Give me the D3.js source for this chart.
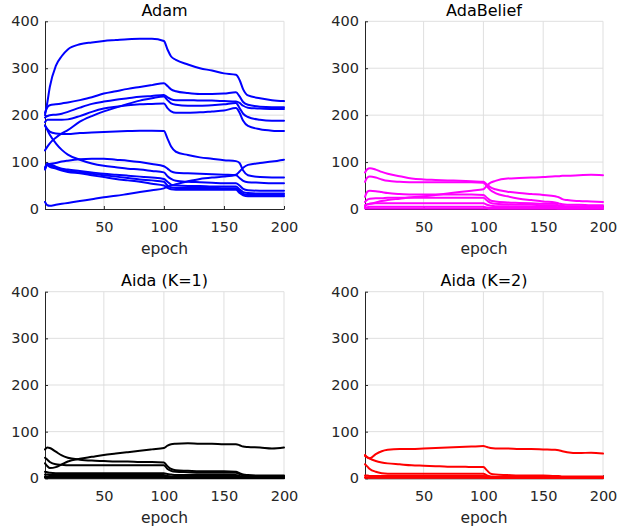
<!DOCTYPE html>
<html><head><meta charset="utf-8">
<script src="https://cdn.jsdelivr.net/npm/d3@7"></script>
<style>body{margin:0;background:#fff} svg{display:block}</style>
</head><body><svg id="c" width="632" height="529"></svg>
<script>
// ---------- data ----------
const epochs = [1,3,5,10,15,20,30,40,50,60,70,80,90,100,103,106,110,120,130,140,150,160,163,166,170,180,190,200];
const xTicks = [50,100,150,200];
const yTicks = [0,100,200,300,400];
const panelTitles = ["Adam","AdaBelief","Aida (K=1)","Aida (K=2)"];
const panelColors = ["#0000ff","#ff00ff","#000000","#ff0000"];
const xLabel = "epoch";

const adamSeries = [
  [200,228,260,305,326,340,351,355,358,360,362,363,363,358,340,325,318,308,300,295,289,286,275,255,242,236,232,230],
  [205,217,221,223,225,227,232,238,246,251,256,260,264,268,262,255,251,247,245,245,246,249,240,228,222,218,217,217],
  [195,198,200,201,203,207,216,224,229,233,236,239,241,243,238,234,232,232,231,231,230,229,226,220,216,214,213,213],
  [125,133,140,152,161,168,186,198,208,216,224,231,236,240,232,225,222,220,220,221,223,226,215,203,196,190,188,188],
  [185,190,190,190,190,191,198,207,214,218,221,223,224,225,215,208,205,205,206,208,210,215,205,188,177,170,167,166],
  [178,170,165,161,160,160,162,163,164,165,166,167,167,166,150,133,122,115,110,107,104,102,98,82,72,68,67,67],
  [178,168,158,140,126,116,105,97,92,89,86,84,81,78,70,64,60,58,57,56,55,55,50,43,40,39,39,39],
  [88,95,96,98,101,103,106,107,107,105,103,100,96,91,86,80,77,76,75,74,73,72,66,60,57,56,55,55],
  [85,95,95,90,86,84,81,78,75,73,71,69,67,64,58,52,50,49,49,48,48,48,42,36,34,33,33,33],
  [88,97,93,88,84,81,78,75,72,69,66,63,61,58,50,46,45,45,45,45,44,44,38,32,30,30,30,30],
  [84,93,90,86,82,79,76,72,68,64,61,58,54,50,45,42,41,41,41,41,41,41,34,29,27,27,27,27],
  [15,8,7,9,11,13,17,21,25,28,32,36,40,44,47,50,53,59,64,67,69,73,80,88,94,98,101,105]
];

const adaBeliefSeries = [
  [78,85,87,84,79,75,70,65,63,62,61,60,59,58,52,46,42,37,34,32,30,27,25,21,19,17,16,15],
  [58,67,69,67,63,60,58,57,57,57,57,57,57,56,48,40,34,27,22,19,16,14,12,10,9,9,8,8],
  [8,10,11,14,17,19,22,25,27,30,33,36,39,42,50,56,60,65,66,67,68,70,70,71,71,72,73,72],
  [26,37,39,38,36,34,32,31,31,31,31,31,31,30,24,18,16,14,13,12,11,11,8,7,6,6,6,6],
  [15,20,22,23,23,24,24,24,24,24,24,24,24,24,18,13,11,10,9,9,8,8,6,4,4,4,3,3],
  [6,10,11,12,12,12,12,12,12,12,12,12,12,12,9,7,6,6,5,5,5,5,3,2,2,2,2,2],
  [3,4,5,5,5,5,5,5,5,5,5,5,5,5,3,2,2,2,2,2,2,2,1,1,1,1,1,1],
  [1,1,1,1,1,1,1,1,1,1,1,1,1,1,1,0.5,0.5,0.5,0.5,0.5,0.5,0.5,0.5,0.5,0.5,0.5,0.5,0.5]
];

const aidaK1Series = [
  [32,26,22,24,30,36,42,46,50,53,56,59,62,65,70,73,74,75,74,74,73,73,71,68,67,66,64,66],
  [62,66,65,57,49,44,40,38,37,36,36,35,35,34,26,20,17,16,15,15,15,14,11,8,7,6,6,6],
  [44,40,35,30,29,28,28,28,28,28,28,28,28,28,20,16,14,13,12,12,12,12,9,6,5,5,5,4],
  [14,13,12,11,11,11,11,11,11,11,11,11,11,11,9,8,7,7,7,7,7,7,5,4,3,3,3,3],
  [8,8,7,7,7,7,7,7,7,7,7,7,7,7,5,4,4,4,4,4,4,4,3,2,2,2,2,2],
  [4,4,4,4,4,4,4,4,4,4,4,4,4,4,3,2,2,2,2,2,2,2,1.5,1,1,1,1,1],
  [2,2,2,2,2,2,2,2,2,2,2,2,2,2,1,1,1,1,1,1,1,1,1,1,1,1,1,1],
  [1,1,1,1,1,1,1,1,1,1,1,1,1,1,0.5,0.5,0.5,0.5,0.5,0.5,0.5,0.5,0.5,0.5,0.5,0.5,0.5,0.5]
];

const aidaK2Series = [
  [50,45,43,52,58,61,63,63,64,65,66,67,68,69,67,65,64,64,63,63,62,61,60,58,56,54,55,53],
  [48,45,42,37,34,32,30,28,27,26,25,25,24,24,17,10,8,7,6,6,6,5,5,4,4,4,4,4],
  [30,25,20,14,11,10,10,10,10,10,10,10,10,10,6,4,3,3,3,3,3,3,3,3,3,3,3,3],
  [6,6,5,5,5,5,5,5,5,5,5,5,5,5,4,3,2,2,2,2,2,2,2,2,2,2,2,2],
  [2,2,2,2,2,2,2,2,2,2,2,2,2,2,1,1,1,1,1,1,1,1,1,1,1,1,1,1],
  [1,1,1,1,1,1,1,1,1,1,1,1,1,1,0.5,0.5,0.5,0.5,0.5,0.5,0.5,0.5,0.5,0.5,0.5,0.5,0.5,0.5]
];

// ---------- layout ----------
const allSeries = [adamSeries, adaBeliefSeries, aidaK1Series, aidaK2Series];
const boxes = [
  {left:45,  right:284, top:21.3,  bottom:209},
  {left:365, right:603, top:21.3,  bottom:209},
  {left:45,  right:284, top:291.7, bottom:478.3},
  {left:365, right:603, top:291.7, bottom:478.3}
];
const FONT = "'DejaVu Sans', sans-serif";
const svg = d3.select("#c");

boxes.forEach((b, i) => {
  const x = d3.scaleLinear().domain([1,200]).range([b.left, b.right]);
  const y = d3.scaleLinear().domain([0,400]).range([b.bottom, b.top]);
  const g = svg.append("g");

  // grid
  g.append("g").selectAll("line").data(xTicks).join("line")
    .attr("x1", d => x(d)).attr("x2", d => x(d))
    .attr("y1", b.top).attr("y2", b.bottom)
    .attr("stroke", "#dfdfdf").attr("stroke-width", 1);
  g.append("g").selectAll("line").data(yTicks.filter(d => d > 0)).join("line")
    .attr("x1", b.left).attr("x2", b.right)
    .attr("y1", d => y(d)).attr("y2", d => y(d))
    .attr("stroke", "#dfdfdf").attr("stroke-width", 1);

  // axes
  const ax = g.append("g").attr("transform", `translate(${b.left},0)`)
    .call(d3.axisLeft(y).tickValues(yTicks).tickSizeInner(-3).tickSizeOuter(0).tickPadding(6));
  const bx = g.append("g").attr("transform", `translate(0,${b.bottom})`)
    .call(d3.axisBottom(x).tickValues(xTicks).tickSizeInner(-3).tickSizeOuter(0).tickPadding(12.5));
  [ax, bx].forEach(a => {
    a.select(".domain").attr("stroke", "#262626");
    a.selectAll(".tick line").attr("stroke", "#262626");
    a.selectAll(".tick text").attr("fill", "#262626")
      .style("font-family", FONT).style("font-size", "14.5px");
  });

  // lines
  const line = d3.line().x((d, k) => x(epochs[k])).y(d => y(d)).curve(d3.curveMonotoneX);
  g.append("g").selectAll("path").data(allSeries[i]).join("path")
    .attr("d", line).attr("fill", "none")
    .attr("stroke", panelColors[i]).attr("stroke-width", 2)
    .attr("stroke-linejoin", "round").attr("stroke-linecap", "round");

  // labels
  g.append("text").attr("x", (b.left + b.right) / 2).attr("y", b.bottom + 45)
    .attr("text-anchor", "middle").attr("fill", "#262626")
    .style("font-family", FONT).style("font-size", "15.5px").text(xLabel);
  g.append("text").attr("x", (b.left + b.right) / 2).attr("y", b.top - 5.5)
    .attr("text-anchor", "middle").attr("fill", "#000")
    .style("font-family", FONT).style("font-size", "16px").text(panelTitles[i]);
});
</script>
</body></html>
